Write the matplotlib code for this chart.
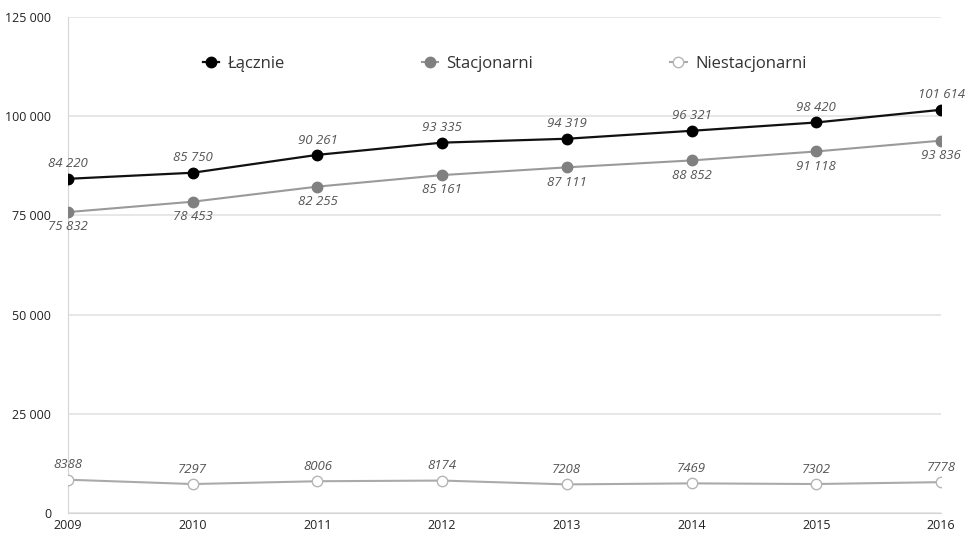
import matplotlib
matplotlib.use("Agg")
import matplotlib.pyplot as plt
from matplotlib.ticker import FixedLocator, FuncFormatter

plt.rcParams['font.family'] = ['Open Sans', 'DejaVu Sans']

years = [2009, 2010, 2011, 2012, 2013, 2014, 2015, 2016]
lacznie = [84220, 85750, 90261, 93335, 94319, 96321, 98420, 101614]
stacjonarni = [75832, 78453, 82255, 85161, 87111, 88852, 91118, 93836]
niestacjonarni = [8388, 7297, 8006, 8174, 7208, 7469, 7302, 7778]
yticks = [0, 25000, 50000, 75000, 100000, 125000]


def fmt(v):
    return f"{v:,}".replace(",", " ") if v >= 10000 else str(v)


fig = plt.figure(figsize=(9.66, 5.36), dpi=100)
ax = fig.add_axes([68 / 966, 1 - 513 / 536, (941 - 68) / 966, (513 - 17) / 536])

ax.plot(years, lacznie, color='#111111', lw=1.6, marker='o', ms=7.5,
        mfc='#000000', mec='#000000', label='Łącznie', zorder=4)
ax.plot(years, stacjonarni, color='#9a9a9a', lw=1.5, marker='o', ms=7.5,
        mfc='#808080', mec='#808080', label='Stacjonarni', zorder=3)
ax.plot(years, niestacjonarni, color='#aaaaaa', lw=1.5, marker='o', ms=7.5,
        mfc='white', mec='#b5b5b5', mew=1.0, label='Niestacjonarni', zorder=3)

lab_kw = dict(textcoords='offset points', ha='center', fontsize=9.5,
              style='italic', color='#555555')
for x, v in zip(years, lacznie):
    ax.annotate(fmt(v), (x, v), xytext=(0, 6), va='bottom', **lab_kw)
for x, v in zip(years, stacjonarni):
    ax.annotate(fmt(v), (x, v), xytext=(0, -6), va='top', **lab_kw)
for x, v in zip(years, niestacjonarni):
    ax.annotate(fmt(v), (x, v), xytext=(0, 6), va='bottom', **lab_kw)

ax.set_xlim(years[0], years[-1])
ax.set_ylim(0, 125000)
ax.set_xticks(years)
ax.set_xticklabels([str(y) for y in years])
ax.yaxis.set_major_locator(FixedLocator(yticks))
ax.yaxis.set_major_formatter(FuncFormatter(lambda v, p: f"{int(v):,}".replace(",", " ")))
ax.grid(axis='y', color='#e3e3e3', lw=1.2)
ax.set_axisbelow(True)
for s in ['top', 'right']:
    ax.spines[s].set_visible(False)
ax.spines['left'].set_color('#d5d5d5')
ax.spines['bottom'].set_color('#d5d5d5')
ax.tick_params(axis='both', length=0, labelsize=9, colors='#222222')
ax.tick_params(axis='y', pad=12)
ax.tick_params(axis='x', pad=4)

leg = ax.legend(loc='center', bbox_to_anchor=(0.5, 0.905), ncol=3, frameon=False,
                fontsize=12, handlelength=1.0, columnspacing=8.2, handletextpad=0.5)
for t in leg.get_texts():
    t.set_color('#333333')

fig.savefig('out.png', dpi=100, facecolor='white')
